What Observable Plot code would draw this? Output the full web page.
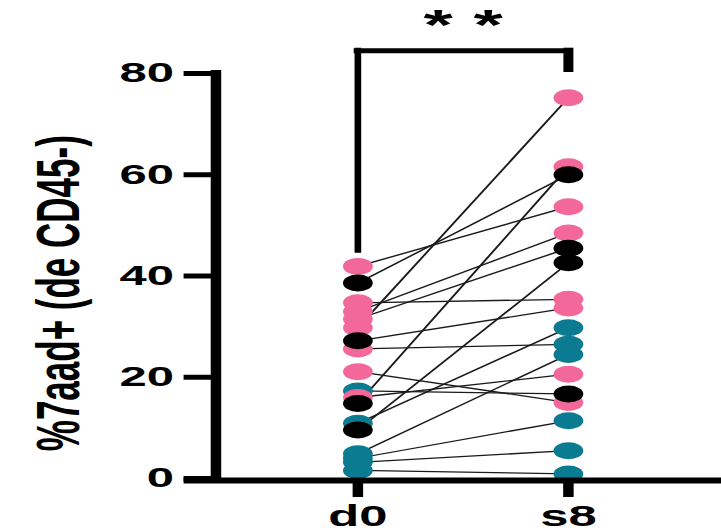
<!DOCTYPE html>
<html>
<head>
<meta charset="utf-8">
<script src="https://cdn.jsdelivr.net/npm/d3@7"></script>
<script src="https://cdn.jsdelivr.net/npm/@observablehq/plot@0.6"></script>
<style>
  html, body { margin: 0; padding: 0; background: #ffffff; }
  #chart svg { display: block; }
</style>
</head>
<body>
<div id="chart"></div>
<script>
// ---- data ----
const timepoints = ["d0", "s8"];
const d0Values = [41.9, 38.6, 34.7, 33.0, 31.5, 29.8, 27.2, 25.6, 21.1, 17.3, 16.0, 14.8, 10.9, 9.6, 4.9, 4.0, 3.2, 1.6];
const d0Groups = ["pink","black","pink","pink","pink","pink","black","pink","pink","teal","pink","black","teal","black","teal","teal","teal","teal"];
const s8Values = [53.7, 60.0, 35.4, 48.5, 45.5, 75.2, 33.7, 26.5, 15.0, 16.7, 20.6, 61.6, 29.8, 42.6, 24.5, 11.4, 5.5, 0.9];
const s8Groups = ["pink","black","pink","pink","black","pink","pink","teal","pink","black","pink","pink","teal","black","teal","teal","teal","teal"];
const yTicks = [0, 20, 40, 60, 80];
const yLabel = "%7aad+ (de CD45-)";
const significance = "* *";
const groupColors = {teal: "#0b7b91", pink: "#f2689b", black: "#000000"};
const drawOrder = ["teal", "pink", "black"];

// ---- build tables ----
const points = [];
d0Values.forEach((v, i) => points.push({t: 0, value: v, group: d0Groups[i]}));
s8Values.forEach((v, i) => points.push({t: 1, value: v, group: s8Groups[i]}));
const pairs = d0Values.map((v, i) => ({a: v, b: s8Values[i]}));

// ---- layout (drawn narrow, then stretched horizontally like the reference) ----
const stretch = 1.75;
const W = 721 / stretch;
const H = 532;
const mLeft = 122.9;
const pxPerUnit = 120.3;
const xLeft = -(204 - mLeft) / pxPerUnit;
const xRight = 1 + (W - 324.3) / pxPerUnit;
const font = "'Liberation Sans', Arial, Helvetica, sans-serif";

const dotMarks = drawOrder.map(g =>
  Plot.dot(points.filter(p => p.group === g), {x: "t", y: "value", r: 8.5, fill: groupColors[g], stroke: "none"})
);

const svg = Plot.plot({
  width: W,
  height: H,
  marginLeft: mLeft,
  marginRight: 0,
  marginTop: 73,
  marginBottom: 54,
  style: {fontFamily: font, fontWeight: "bold", color: "#000", background: "#fff", overflow: "visible"},
  x: {type: "linear", domain: [xLeft, xRight]},
  y: {domain: [0, 80]},
  marks: [
    // paired lines
    Plot.link(pairs, {x1: () => 0, y1: "a", x2: () => 1, y2: "b", stroke: "#1a1a1a", strokeWidth: 1.3}),
    ...dotMarks,
    // y axis
    Plot.axisY(yTicks, {tickSize: 18, tickPadding: 6, strokeWidth: 5, fontSize: 28, fontWeight: "bold", label: null}),
    Plot.ruleX([xLeft], {y1: 0, y2: 80.6, strokeWidth: 6, stroke: "#000"}),
    // x axis
    Plot.axisX([0, 1], {tickFormat: i => timepoints[i], tickSize: 19, tickPadding: 8, strokeWidth: 6, fontSize: 29, fontWeight: "bold", label: null}),
    Plot.ruleY([0], {x1: xLeft - 18 / pxPerUnit, x2: xRight, strokeWidth: 6, stroke: "#000", dy: 2}),
    // y label
    Plot.text([yLabel], {x: xLeft - 89.5 / pxPerUnit, y: 36.6, rotate: -90, fontSize: 35, fontWeight: "bold", textAnchor: "middle", lineAnchor: "middle", fill: "#000"}),
    // significance bracket
    Plot.ruleY([84.5], {x1: -1.9 / pxPerUnit, x2: 1 + 2.85 / pxPerUnit, strokeWidth: 5, stroke: "#000"}),
    Plot.ruleX([0], {y1: 44.5, y2: 85.0, strokeWidth: 3.8, stroke: "#000"}),
    Plot.ruleX([1], {y1: 80.2, y2: 85.0, strokeWidth: 5.7, stroke: "#000"}),
    Plot.text([significance], {x: 0.5, y: 86.9, fontSize: 43, fontWeight: "bold", textAnchor: "middle", lineAnchor: "bottom", fill: "#000"})
  ]
});

svg.setAttribute("preserveAspectRatio", "none");
svg.setAttribute("width", 721);
svg.setAttribute("height", 532);
svg.style.width = "721px";
svg.style.height = "532px";
svg.style.maxWidth = "none";
document.getElementById("chart").appendChild(svg);
</script>
</body>
</html>
